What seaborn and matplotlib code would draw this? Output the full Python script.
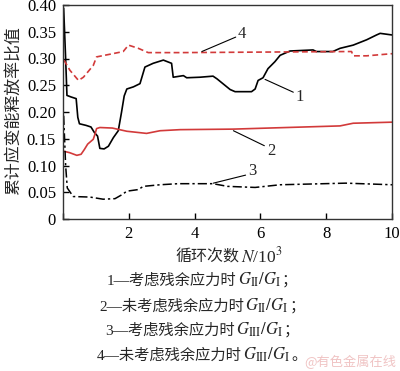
import numpy as np
import pandas as pd
import matplotlib
matplotlib.use("Agg")
import matplotlib.pyplot as plt
import seaborn as sns
from matplotlib.offsetbox import TextArea, HPacker, AnchoredOffsetbox

# ---------------- data ----------------
x1 = [0.02, 0.08, 0.12, 0.25, 0.40, 0.45, 0.50, 0.70, 0.85, 0.95, 1.05, 1.12, 1.25, 1.38,
      1.53, 1.68, 1.78, 1.86, 1.94, 2.14, 2.34, 2.49, 2.74, 3.05, 3.30, 3.35, 3.66, 3.76,
      4.16, 4.56, 4.68, 4.86, 5.08, 5.23, 5.73, 5.84, 5.93, 6.08, 6.23, 6.44, 6.60, 6.90,
      7.60, 7.70, 8.20, 8.42, 8.82, 9.23, 9.53, 9.64, 10.0]
y1 = [0.394, 0.300, 0.231, 0.228, 0.225, 0.190, 0.178, 0.175, 0.172, 0.162, 0.155, 0.132,
      0.131, 0.136, 0.152, 0.165, 0.200, 0.230, 0.243, 0.247, 0.253, 0.284, 0.291, 0.297,
      0.291, 0.265, 0.268, 0.264, 0.265, 0.267, 0.262, 0.253, 0.242, 0.238, 0.238, 0.243,
      0.259, 0.264, 0.281, 0.294, 0.306, 0.314, 0.316, 0.313, 0.313, 0.319, 0.325, 0.335,
      0.344, 0.347, 0.344]

x2 = [0.0, 0.2, 0.42, 0.55, 0.65, 0.75, 0.92, 0.98, 1.02, 1.12, 1.5, 1.94, 2.54, 2.95,
      3.56, 5.17, 8.42, 8.82, 10.0]
y2 = [0.127, 0.124, 0.119, 0.121, 0.130, 0.140, 0.149, 0.160, 0.169, 0.171, 0.170, 0.164,
      0.160, 0.165, 0.167, 0.168, 0.174, 0.179, 0.181]

x3 = [0.02, 0.08, 0.13, 0.31, 0.82, 1.22, 1.58, 1.78, 1.94, 2.29, 2.44, 2.95, 3.5, 4.56,
      5.0, 5.84, 6.6, 8.6, 10.0]
y3 = [0.193, 0.100, 0.058, 0.042, 0.041, 0.037, 0.038, 0.045, 0.052, 0.055, 0.061, 0.064,
      0.066, 0.066, 0.061, 0.059, 0.064, 0.067, 0.064]

x4 = [0.03, 0.21, 0.47, 0.62, 0.92, 1.02, 1.43, 1.83, 1.99, 2.29, 2.59, 3.56, 8.62, 8.77,
      8.82, 9.23, 10.0]
y4 = [0.297, 0.278, 0.259, 0.265, 0.287, 0.303, 0.308, 0.313, 0.325, 0.319, 0.311, 0.311,
      0.313, 0.313, 0.305, 0.305, 0.309]

xticks = [0, 2, 4, 6, 8, 10]
xticklabels = ["", "2", "4", "6", "8", "10"]
yticks = [0, 0.05, 0.10, 0.15, 0.20, 0.25, 0.30, 0.35, 0.40]
yticklabels = ["0", "0.05", "0.10", "0.15", "0.20", "0.25", "0.30", "0.35", "0.40"]

ylabel = "累计应变能释放率比值"
xlabel_cn = "循环次数"
xlabel_math = "$N$/10$^3$"

curve_labels = ["1", "2", "3", "4"]
leader_start = [(6.14, 0.261), (5.18, 0.165), (4.57, 0.067), (4.22, 0.313)]
leader_end = [(7.00, 0.237), (6.12, 0.137), (5.55, 0.082), (5.25, 0.340)]
label_pos = [(7.18, 0.228), (6.32, 0.128), (5.74, 0.090), (5.45, 0.346)]

legend_prefix = ["1—考虑残余应力时", "2—未考虑残余应力时", "3—考虑残余应力时", "4—未考虑残余应力时"]
legend_math = [r"$G_{\mathrm{II}}/G_{\mathrm{I}}$", r"$G_{\mathrm{II}}/G_{\mathrm{I}}$",
               r"$G_{\mathrm{III}}/G_{\mathrm{I}}$", r"$G_{\mathrm{III}}/G_{\mathrm{I}}$"]
legend_suffix = ["；", "；", "；", "。"]
watermark = "@有色金属在线"

# ---------------- style ----------------
sns.set_theme(style="ticks")
CJK = ["Liberation Serif", "Noto Sans CJK SC"]
plt.rcParams["font.family"] = CJK
plt.rcParams["mathtext.fontset"] = "stix"
plt.rcParams["axes.unicode_minus"] = False

RED = "#d23a3a"

fig = plt.figure(figsize=(4.0, 3.71), dpi=100)
W, H = 400, 371
ax = fig.add_axes([63 / W, 1 - 219 / H, (392 - 63) / W, (219 - 5) / H])

sns.lineplot(x=x1, y=y1, ax=ax, color="black", lw=1.2, linestyle="-")
sns.lineplot(x=x2, y=y2, ax=ax, color=RED, lw=1.2, linestyle="-")
sns.lineplot(x=x3, y=y3, ax=ax, color="black", lw=1.1, linestyle=(0, (6, 2, 1.5, 2)))
sns.lineplot(x=x4, y=y4, ax=ax, color=RED, lw=1.2, linestyle=(0, (3.5, 2)))

for s, e in zip(leader_start, leader_end):
    ax.plot([s[0], e[0]], [s[1], e[1]], color="black", lw=0.8)
for lab, p in zip(curve_labels, label_pos):
    ax.text(p[0], p[1], lab, ha="center", va="center", fontsize=12,
            family="Liberation Serif")

ax.set_xlim(0, 10)
ax.set_ylim(0, 0.40)
ax.set_xticks(xticks)
ax.set_xticklabels(xticklabels)
ax.set_yticks(yticks)
ax.set_yticklabels(yticklabels)
ax.tick_params(direction="in", length=4, width=1, labelsize=12, pad=5,
               colors="black", top=False, right=False)
for lab in ax.get_xticklabels() + ax.get_yticklabels():
    lab.set_family("Liberation Serif")
for sp in ax.spines.values():
    sp.set_visible(True)
    sp.set_linewidth(1.0)
    sp.set_color("#333333")
ax.set_xlabel("")
ax.set_ylabel("")

fig.text(12.5 / W, 1 - 111 / H, ylabel, rotation=90, ha="center", va="center",
         fontsize=12.2, family=["Noto Sans CJK SC"])


def row_box(children, cx, cy):
    hp = HPacker(children=children, align="baseline", pad=0, sep=1)
    box = AnchoredOffsetbox(loc="center", child=hp, pad=0, borderpad=0, frameon=False,
                            bbox_to_anchor=(cx / W, 1 - cy / H),
                            bbox_transform=fig.transFigure)
    fig.add_artist(box)


row_box([TextArea(xlabel_cn, textprops=dict(fontsize=11.5, family=["Noto Sans CJK SC"])),
         TextArea(xlabel_math, textprops=dict(fontsize=12.5, family="Liberation Serif"))],
        229, 256)

row_y = [280, 306, 330, 355]
for pre, m, suf, yy in zip(legend_prefix, legend_math, legend_suffix, row_y):
    row_box([TextArea(pre, textprops=dict(fontsize=11, family=CJK)),
             TextArea(m, textprops=dict(fontsize=12)),
             TextArea(suf, textprops=dict(fontsize=11, family=["Noto Sans CJK SC"]))],
            202, yy)

fig.text(396 / W, 1 - 362 / H, watermark, ha="right", va="center", fontsize=9.5,
         color="#f0c4c4", family=["Noto Sans CJK SC"])

fig.savefig("out.png", dpi=100)
